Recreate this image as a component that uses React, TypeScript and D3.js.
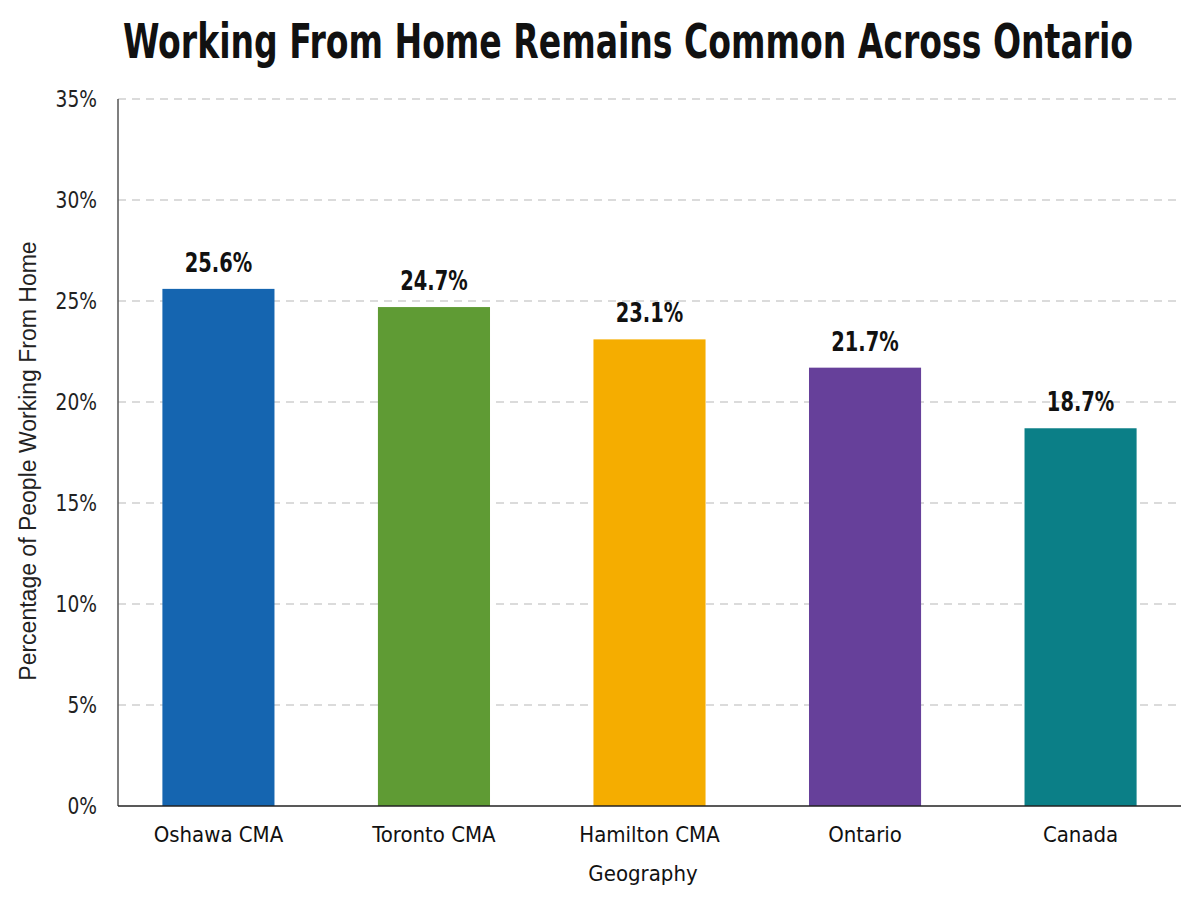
import * as d3 from 'd3';
import { useLayoutEffect, useRef, useState } from 'react';

const categories = ['Oshawa CMA', 'Toronto CMA', 'Hamilton CMA', 'Ontario', 'Canada'];
const values = [25.6, 24.7, 23.1, 21.7, 18.7];
const colors = ['#1565b0', '#5f9b34', '#f5ad00', '#66409a', '#0b7f87'];
const yTicks = [0, 5, 10, 15, 20, 25, 30, 35];
const title = 'Working From Home Remains Common Across Ontario';

const narrow = '"Liberation Sans Narrow", "DejaVu Sans Condensed", sans-serif';

export default function App() {
  const width = 1200;
  const height = 900;
  const margin = { top: 99, right: 19, bottom: 94, left: 118 };
  const x0 = margin.left;
  const x1 = width - margin.right;
  const y0 = height - margin.bottom;

  // squeeze the title to the reference width (~1010px)
  const titleRef = useRef<SVGTextElement>(null);
  const [titleScale, setTitleScale] = useState(0.78);
  useLayoutEffect(() => {
    if (titleRef.current) {
      const w = titleRef.current.getComputedTextLength();
      if (w > 0) setTitleScale(1010 / w);
    }
  }, []);

  const xScale = d3.scaleBand().domain(categories).range([x0, x1]).paddingInner(0.48).paddingOuter(0.206);
  const yScale = d3.scaleLinear().domain([0, 35]).range([y0, margin.top]);

  return (
    <svg width={width} height={height} style={{ position: 'absolute', left: 0, top: 0, background: '#fff' }}>
      <rect width={width} height={height} fill="#fff" />
      <text
        ref={titleRef}
        transform={`translate(628, 58) scale(${titleScale}, 1)`}
        textAnchor="middle"
        fontFamily={narrow}
        fontWeight="bold"
        fontSize={48}
        fill="#111"
      >
        {title}
      </text>
      {/* grid lines */}
      {yTicks.filter((t) => t > 0).map((t) => (
        <line key={t} x1={x0} x2={x1} y1={yScale(t)} y2={yScale(t)} stroke="#d0d0d0" strokeWidth={1.3} strokeDasharray="8 6" />
      ))}
      {/* y tick labels */}
      {yTicks.map((t) => (
        <text
          key={t}
          transform={`translate(97, ${yScale(t)}) scale(0.9, 1)`}
          dy="0.36em"
          textAnchor="end"
          fontFamily={narrow}
          fontSize={23}
          fill="#222"
        >
          {t}%
        </text>
      ))}
      {/* bars */}
      {categories.map((c, i) => (
        <rect key={c} x={xScale(c)} y={yScale(values[i])} width={xScale.bandwidth()} height={y0 - yScale(values[i])} fill={colors[i]} />
      ))}
      {/* value labels */}
      {categories.map((c, i) => (
        <text
          key={c}
          transform={`translate(${xScale(c)! + xScale.bandwidth() / 2}, ${yScale(values[i]) - 17}) scale(0.8, 1)`}
          textAnchor="middle"
          fontFamily={narrow}
          fontWeight="bold"
          fontSize={27}
          fill="#111"
        >
          {values[i].toFixed(1)}%
        </text>
      ))}
      {/* category labels */}
      {categories.map((c) => (
        <text key={c} x={xScale(c)! + xScale.bandwidth() / 2} y={842} textAnchor="middle" fontFamily={narrow} fontSize={22} fill="#111">
          {c}
        </text>
      ))}
      {/* axes */}
      <line x1={x0} x2={x0} y1={margin.top} y2={y0} stroke="#555" strokeWidth={1.5} />
      <line x1={x0} x2={x1} y1={y0} y2={y0} stroke="#222" strokeWidth={1.5} />
      <text x={643} y={881} textAnchor="middle" fontFamily={narrow} fontSize={22} fill="#111">
        Geography
      </text>
      <text
        transform={`translate(36, 461) rotate(-90)`}
        textAnchor="middle"
        fontFamily='"Liberation Sans", Arial, sans-serif'
        fontSize={23}
        fill="#222"
      >
        Percentage of People Working From Home
      </text>
    </svg>
  );
}
